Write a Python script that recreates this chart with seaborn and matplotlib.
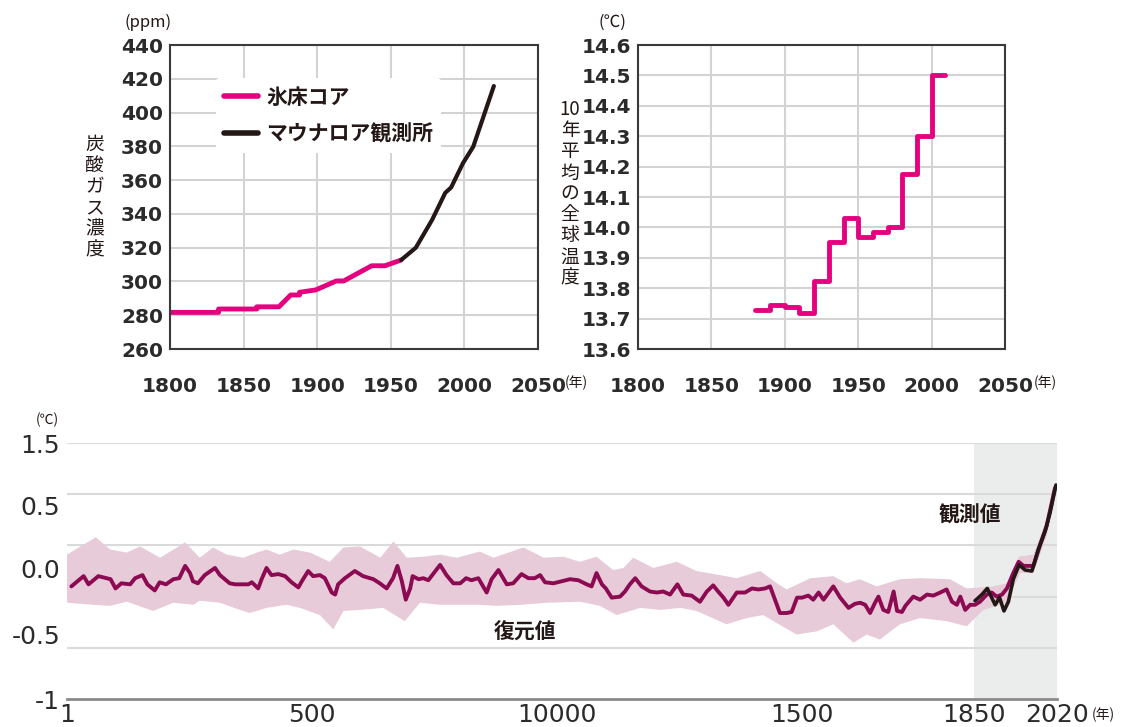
import numpy as np
import pandas as pd
import matplotlib.pyplot as plt
import seaborn as sns

sns.set_style("white")
plt.rcParams['font.family'] = ['Noto Sans CJK JP', 'DejaVu Sans']

ink = '#231815'
pink = '#e4007f'
wine = '#8c0a52'
band_c = '#e8cbd9'
grid_c = '#d3d3d3'

# --- CO2 (ppm) ---
ice_year = [1800, 1833, 1833, 1859, 1859, 1874, 1882, 1888, 1888, 1899, 1913, 1918, 1937, 1946, 1957]
ice_ppm = [281.7, 281.7, 283.7, 283.7, 285.0, 285.0, 292.0, 292.0, 293.6, 295.0, 300.3, 300.3, 309.3, 309.3, 312.7]
mlo_year = [1957, 1967, 1978, 1987, 1991, 1999, 2006, 2020]
mlo_ppm = [312.7, 320.0, 336.4, 352.5, 355.7, 370.0, 379.8, 415.7]

# --- 10-year mean global temperature ---
dec_year = [1880, 1890, 1900, 1910, 1920, 1930, 1940, 1950, 1960, 1970, 1980, 1990, 2000, 2009]
dec_temp = [13.73, 13.745, 13.737, 13.72, 13.825, 13.952, 14.03, 13.968, 13.984, 14.0, 14.177, 14.30, 14.50, 14.50]

# --- reconstruction 1-2020 ---
rec_year = [10, 35, 45, 65, 90, 100, 112, 130, 140, 155, 165, 180, 190, 203, 218, 230, 242, 252, 258, 268, 282,
            303, 313, 323, 333, 344, 357, 371, 378, 391, 398, 408, 418, 432, 446, 459, 473, 480, 493, 503, 517,
            527, 541, 548, 554, 568,
            588, 605, 626, 639, 653, 666, 675, 684, 692, 701, 706, 718, 728, 738, 762, 775, 789, 803, 815, 826, 840,
            857, 867, 881, 898, 911, 928, 942, 955, 966, 976, 993, 1010, 1027, 1044, 1061, 1071, 1081, 1092, 1100,
            1112, 1129, 1139,
            1149, 1160, 1173, 1190, 1204, 1217, 1231, 1246, 1258, 1275, 1292, 1306, 1319, 1329, 1340, 1350, 1367,
            1384, 1398, 1411, 1425,
            1435, 1445, 1455, 1469, 1479, 1490, 1500, 1513, 1523, 1534, 1544, 1564, 1578, 1595, 1608, 1619, 1629,
            1639, 1649, 1656, 1666, 1676, 1687, 1694, 1704, 1711,
            1727, 1741, 1755, 1768, 1782, 1795, 1806, 1816, 1823, 1833, 1843, 1853, 1863, 1877, 1887, 1897, 1908,
            1918, 1931, 1942, 1952, 1962, 1972, 1986, 1999, 2016]
rec_temp = [0.10, 0.20, 0.12, 0.20, 0.17, 0.08, 0.13, 0.12, 0.18, 0.21, 0.12, 0.06, 0.14, 0.12, 0.17, 0.18, 0.30,
            0.23, 0.15, 0.13, 0.21,
            0.28, 0.21, 0.17, 0.13, 0.12, 0.12, 0.12, 0.14, 0.08, 0.17, 0.28, 0.21, 0.22, 0.20, 0.14, 0.09, 0.15,
            0.25, 0.20, 0.21, 0.18, 0.04, 0.02, 0.12, 0.18,
            0.25, 0.20, 0.17, 0.13, 0.08, 0.18, 0.30, 0.15, -0.03, 0.08, 0.20, 0.17, 0.18, 0.16, 0.31, 0.21, 0.13,
            0.13, 0.18, 0.16, 0.18,
            0.04, 0.17, 0.26, 0.12, 0.13, 0.22, 0.18, 0.18, 0.21, 0.14, 0.13, 0.15, 0.17, 0.16, 0.12, 0.10, 0.23,
            0.12, 0.08, -0.01, 0.00, 0.05,
            0.12, 0.18, 0.10, 0.05, 0.04, 0.05, 0.02, 0.12, 0.02, 0.01, -0.05, 0.05, 0.11, 0.05, -0.01, -0.08, 0.04,
            0.04, 0.08, 0.07, 0.08,
            0.10, -0.03, -0.16, -0.16, -0.15, -0.01, -0.01, 0.01, -0.03, 0.04, -0.03, 0.10, -0.01, -0.11, -0.07,
            -0.06, -0.08, -0.16, -0.06, 0.00, -0.13, -0.15, 0.05, -0.14, -0.15, -0.09,
            0.00, -0.03, 0.02, 0.01, 0.04, 0.07, -0.05, -0.08, 0.00, -0.13, -0.08, -0.08, -0.05, 0.02, 0.04, 0.00,
            0.02, 0.08, 0.23, 0.34, 0.30, 0.30, 0.30, 0.51, 0.69, 1.06]

# uncertainty band edges
up_year = [1, 60, 89, 123, 150, 191, 242, 272, 299, 327, 361, 388, 408, 435, 463, 497, 537, 565, 599, 640, 667,
           694, 728, 762, 796, 843, 871, 932, 973, 1014, 1047, 1081, 1115, 1136, 1156, 1197, 1245, 1285, 1333,
           1367, 1415, 1449, 1469, 1517, 1564, 1591, 1618, 1652, 1700, 1741, 1802, 1836, 1890, 1918, 1942, 1972,
           1999, 2016]
up_temp = [0.41, 0.58, 0.46, 0.43, 0.49, 0.38, 0.53, 0.38, 0.48, 0.41, 0.38, 0.43, 0.46, 0.41, 0.46, 0.43, 0.34,
           0.48, 0.49, 0.38, 0.54, 0.38, 0.39, 0.41, 0.38, 0.44, 0.38, 0.48, 0.38, 0.39, 0.34, 0.39, 0.26, 0.28,
           0.38, 0.28, 0.34, 0.25, 0.21, 0.18, 0.25, 0.13, 0.07, 0.18, 0.20, 0.13, 0.17, 0.10, 0.17, 0.18, 0.17,
           0.08, 0.10, 0.13, 0.39, 0.41, 0.75, 1.04]
low_year = [1, 55, 89, 123, 177, 218, 259, 272, 313, 354, 374, 408, 449, 476, 517, 544, 565, 599, 646, 690, 721,
            762, 803, 843, 877, 925, 980, 1047, 1088, 1122, 1136, 1170, 1211, 1252, 1285, 1346, 1387, 1421, 1442,
            1489, 1530, 1564, 1605, 1632, 1659, 1686, 1700, 1741, 1795, 1836, 1870, 1918, 1945, 1972, 1999, 2016]
low_temp = [-0.06, -0.08, -0.09, -0.05, -0.14, -0.06, -0.08, -0.04, -0.06, -0.13, -0.16, -0.11, -0.08, -0.11,
            -0.18, -0.32, -0.14, -0.13, -0.11, -0.24, -0.06, -0.08, -0.08, -0.08, -0.09, -0.08, -0.06, -0.05,
            -0.09, -0.18, -0.16, -0.11, -0.13, -0.11, -0.14, -0.27, -0.21, -0.18, -0.24, -0.37, -0.34, -0.27,
            -0.45, -0.37, -0.42, -0.32, -0.27, -0.21, -0.24, -0.29, -0.13, -0.06, 0.23, 0.23, 0.59, 1.01]

obs_year = [1853, 1867, 1878, 1887, 1894, 1903, 1912, 1921, 1931, 1943, 1955, 1969, 1982, 1996, 2006, 2018]
obs_temp = [-0.04, 0.02, 0.08, -0.01, -0.08, -0.01, -0.14, -0.05, 0.17, 0.31, 0.26, 0.25, 0.46, 0.64, 0.82, 1.09]

rec = pd.DataFrame({'year': rec_year, 'temp': rec_temp})
obs = pd.DataFrame({'year': obs_year, 'temp': obs_temp})

bot_xticks = [1, 500, 1000, 1500, 1850, 2020]
bot_xlabels = ['1', '500', '10000', '1500', '1850', '2020']
bot_grid = [-1, -0.5, 0, 0.5, 1.0, 1.5]
# label positions as they stand in the original (not on the grid lines)
bot_ypos = [1.5, 0.89, 0.27, -0.37, -1.0]
bot_ylabels = ['1.5', '0.5', '0.0', '-0.5', '-1']

fig = plt.figure(figsize=(11.31, 7.27), dpi=100)


def num_font(ax, size, weight):
    for lbl in ax.get_xticklabels() + ax.get_yticklabels():
        lbl.set_fontfamily(['DejaVu Sans'])
        lbl.set_fontsize(size)
        lbl.set_fontweight(weight)
        lbl.set_color('#2b2b2b')


def frame_top(ax):
    ax.set_xlim(1800, 2050)
    ax.set_xticks(range(1800, 2051, 50))
    ax.grid(True, color=grid_c, lw=1.5)
    ax.set_axisbelow(True)
    for s in ax.spines.values():
        s.set_visible(True)
        s.set_color('#3a3a3a')
        s.set_linewidth(1.5)
    ax.tick_params(axis='both', length=0)
    ax.tick_params(axis='x', pad=20)
    ax.tick_params(axis='y', pad=5)
    ax.set_xlabel('')
    ax.set_ylabel('')


# top-left: CO2
ax1 = fig.add_axes([0.1503, 0.5199, 0.3254, 0.4182])
sns.lineplot(x=ice_year, y=ice_ppm, ax=ax1, color=pink, lw=3.5, estimator=None, sort=False, label='氷床コア')
sns.lineplot(x=mlo_year, y=mlo_ppm, ax=ax1, color=ink, lw=3, estimator=None, sort=False, label='マウナロア観測所')
frame_top(ax1)
ax1.set_ylim(260, 440)
ax1.set_yticks(range(260, 441, 20))
num_font(ax1, 14.5, 'bold')
leg = ax1.legend(loc='upper left', bbox_to_anchor=(0.097, 0.925), frameon=True, facecolor='white',
                 edgecolor='none', framealpha=1, prop={'size': 15, 'weight': 'bold'}, handlelength=1.6,
                 labelspacing=0.75, borderpad=0.4, handletextpad=0.4)
for h in leg.get_lines():
    h.set_linewidth(4)
for t in leg.get_texts():
    t.set_color(ink)
ax1.text(-0.06, 1.075, '(ppm)', transform=ax1.transAxes, ha='center', va='center', fontsize=12, color=ink)
ax1.text(-0.205, 0.5, '\n'.join('炭酸ガス濃度'), transform=ax1.transAxes, ha='center', va='center',
         fontsize=13.5, color=ink, linespacing=1.0)
ax1.text(1.105, -0.112, '(年)', transform=ax1.transAxes, ha='center', va='center', fontsize=10, color=ink)

# top-right: decade temperature
ax2 = fig.add_axes([0.5641, 0.5199, 0.3245, 0.4182])
sns.lineplot(x=dec_year, y=dec_temp, ax=ax2, color=pink, lw=3.5, estimator=None, sort=False,
             drawstyle='steps-post')
frame_top(ax2)
ax2.set_ylim(13.6, 14.6)
ticks2 = np.round(np.arange(13.6, 14.61, 0.1), 1)
ax2.set_yticks(ticks2, labels=[f'{v:.1f}' for v in ticks2])
num_font(ax2, 14.5, 'bold')
ax2.text(-0.07, 1.075, '(℃)', transform=ax2.transAxes, ha='center', va='center', fontsize=12, color=ink)
ax2.text(-0.185, 0.51, '10\n' + '\n'.join('年平均の全球温度'), transform=ax2.transAxes, ha='center',
         va='center', fontsize=13.5, color=ink, linespacing=1.0)
ax2.text(1.11, -0.112, '(年)', transform=ax2.transAxes, ha='center', va='center', fontsize=10, color=ink)

# bottom: reconstruction and observation
ax3 = fig.add_axes([0.0592, 0.0385, 0.8753, 0.3521])
ax3.axvspan(1850, 2020, color='#ebeded', lw=0, zorder=0)
for g in bot_grid[1:]:
    ax3.axhline(g, color='#dadada', lw=1.5, zorder=0.5)
ax3.fill(np.r_[up_year, low_year[::-1]], np.r_[up_temp, low_temp[::-1]], color=band_c, lw=0, zorder=1)
sns.lineplot(data=rec, x='year', y='temp', ax=ax3, color=wine, lw=2.8, estimator=None, sort=False, zorder=2)
sns.lineplot(data=obs, x='year', y='temp', ax=ax3, color=ink, lw=2.6, estimator=None, sort=False, zorder=3)
ax3.set_xlim(1, 2020)
ax3.set_ylim(-1, 1.5)
ax3.set_yticks(bot_ypos, labels=bot_ylabels)
ax3.set_xticks(bot_xticks, labels=bot_xlabels)
ax3.grid(False)
for k in ['left', 'right', 'top']:
    ax3.spines[k].set_visible(False)
ax3.spines['bottom'].set_color('#8a8a8a')
ax3.spines['bottom'].set_linewidth(2)
ax3.tick_params(axis='both', length=0)
ax3.tick_params(axis='y', pad=5)
ax3.tick_params(axis='x', pad=3)
num_font(ax3, 18, 'normal')
ax3.set_xlabel('')
ax3.set_ylabel('')
ax3.text(-0.02, 1.09, '(℃)', transform=ax3.transAxes, ha='center', va='center', fontsize=10, color=ink)
ax3.text(1.047, -0.062, '(年)', transform=ax3.transAxes, ha='center', va='center', fontsize=10, color=ink)
ax3.text(1842, 0.80, '観測値', ha='center', va='center', fontsize=15, fontweight='bold', color=ink)
ax3.text(935, -0.35, '復元値', ha='center', va='center', fontsize=15, fontweight='bold', color=ink)

fig.savefig('out.png', dpi=100)
